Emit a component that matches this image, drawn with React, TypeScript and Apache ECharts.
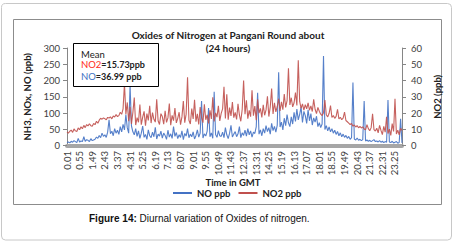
import React, { useEffect, useRef } from "react";
import * as echarts from "echarts";

// NO (ppb), left axis, one reading every 6 minutes starting 0.01
const noValues: number[] = [
  9, 11, 8, 13, 10, 15, 12, 9, 22, 11,
  14, 12, 27, 13, 18, 16, 12, 21, 15, 17,
  19, 26, 22, 31, 24, 38, 28, 33, 25, 41,
  79, 36, 44, 30, 52, 38, 47, 34, 58, 42,
  65, 48, 95, 55, 38, 185, 60, 42, 33, 52,
  28, 45, 22, 38, 60, 25, 34, 19, 48, 30,
  24, 41, 27, 56, 20, 35, 29, 44, 23, 38,
  31, 19, 47, 26, 36, 22, 58, 28, 40, 21,
  33, 25, 45, 18, 37, 29, 52, 24, 35, 27,
  42, 20, 31, 48, 26, 38, 137, 23, 36, 29,
  44, 115, 27, 39, 22, 165, 34, 25, 46, 30,
  28, 41, 24, 55, 33, 21, 38, 62, 26, 35,
  43, 27, 36, 58, 24, 39, 31, 47, 29, 52,
  33, 45, 26, 41, 37, 57, 162, 35, 48, 30,
  52, 38, 61, 43, 55, 35, 68, 46, 59, 41,
  63, 225, 57, 72, 48, 84, 61, 95, 70, 58,
  88, 66, 102, 74, 112, 79, 96, 118, 71, 105,
  92, 68, 110, 76, 98, 63, 85, 72, 90, 58,
  70, 55, 66, 275, 49, 61, 45, 57, 42, 52,
  38, 47, 34, 43, 30, 39, 27, 35, 25, 31,
  22, 28, 19, 24, 194, 20, 17, 23, 16, 19,
  15, 18, 137, 14, 17, 13, 16, 12, 15, 18,
  12, 14, 11, 15, 10, 13, 9, 12, 10, 140,
  11, 9, 13, 8, 10, 12, 7, 9, 82, 8,
];

// NO2 (ppb), right axis
const no2Values: number[] = [
  8.4, 7.6, 8.8, 9.5, 8.1, 10.2, 9.0, 8.6, 10.8, 9.7,
  11.5, 10.3, 12.4, 11.0, 12.9, 12.1, 13.4, 12.2, 11.8, 13.6,
  12.8, 14.9, 13.7, 15.6, 16.8, 16.2, 17.0, 16.5, 15.8, 17.3,
  16.9, 17.6, 16.4, 18.2, 17.5, 19.1, 17.8, 18.4, 20.5, 19.2,
  22.6, 38.0, 19.3, 26.5, 15.0, 23.8, 13.2, 20.4, 29.5, 12.6,
  17.1, 14.3, 25.2, 12.8, 17.5, 21.0, 12.2, 19.7, 15.4, 24.5,
  13.8, 20.3, 16.1, 14.4, 28.5, 15.2, 12.9, 19.6, 17.8, 13.1,
  21.4, 14.2, 17.0, 25.8, 12.5, 18.6, 15.3, 23.1, 13.9, 16.7,
  20.5, 12.8, 17.6, 27.4, 14.0, 19.3, 42.0, 15.5, 13.2, 22.8,
  16.3, 28.2, 14.7, 19.5, 12.9, 23.6, 17.2, 14.1, 25.3, 15.8,
  18.9, 13.6, 21.7, 16.4, 29.6, 14.8, 20.1, 17.5, 24.4, 15.1,
  19.8, 22.5, 36.2, 16.6, 31.5, 15.9, 23.3, 18.2, 26.7, 17.1,
  20.4, 16.0, 25.6, 18.8, 14.9, 22.3, 40.0, 19.2, 27.8, 16.5,
  21.6, 17.7, 34.0, 18.4, 24.2, 15.6, 28.5, 19.9, 22.8, 17.3,
  25.1, 18.6, 21.9, 30.3, 17.8, 23.7, 35.0, 19.4, 26.2, 20.7,
  24.0, 28.8, 21.3, 26.9, 22.1, 31.7, 23.4, 27.6, 47.5, 25.0,
  29.4, 23.8, 26.3, 32.6, 24.7, 52.5, 27.1, 22.9, 25.6, 21.8,
  25.2, 22.6, 26.3, 21.7, 24.4, 20.9, 28.4, 22.3, 19.6, 23.5,
  21.1, 19.3, 18.4, 20.2, 28.0, 18.9, 17.6, 19.8, 24.5, 17.2,
  18.5, 16.7, 17.9, 22.3, 16.3, 17.4, 15.9, 16.8, 20.6, 15.4,
  14.6, 13.8, 12.9, 13.5, 11.9, 12.6, 11.4, 12.2, 10.9, 11.7,
  10.8, 11.5, 10.2, 9.6, 12.8, 10.4, 9.1, 11.0, 19.5, 9.8,
  8.9, 10.6, 7.8, 12.4, 9.3, 6.7, 11.8, 8.2, 17.6, 7.4,
  10.1, 6.2, 13.5, 8.6, 28.8, 7.1, 9.4, 6.5, 10.6, 9.2,
];

// time categories "h.mm" (GMT), one every 6 minutes from 0.01
const startMinute = 1;
const stepMinutes = 6;
const timeLabels: string[] = noValues.map((_, i) => {
  const m = startMinute + i * stepMinutes;
  const h = Math.floor(m / 60);
  const mm = m % 60;
  return `${h}.${mm < 10 ? "0" + mm : mm}`;
});

const seriesNames = ["NO ppb", "NO2 ppb"];
const meanNO2 = "15.73";
const meanNO = "36.99";

const FONT = "Lato, 'Open Sans', sans-serif";

export default function App() {
  const ref = useRef<HTMLDivElement>(null);
  useEffect(() => {
    if (!ref.current) return;
    const chart = echarts.init(ref.current, null, { renderer: "svg" });
    const axisLabelStyle = { fontFamily: FONT, fontSize: 9.5, color: "#404040" };
    chart.setOption({
      animation: false,
      backgroundColor: "#ffffff",
      textStyle: { fontFamily: FONT },
      grid: { left: 67, top: 48, width: 335, height: 97.5 },
      legend: {
        data: seriesNames,
        left: 168,
        top: 183,
        icon: "rect",
        itemWidth: 19,
        itemHeight: 2,
        itemGap: 8,
        textStyle: { fontFamily: FONT, fontSize: 9.5, fontWeight: "bold", color: "#222" },
      },
      xAxis: {
        type: "category",
        data: timeLabels,
        boundaryGap: false,
        offset: 1.5,
        axisLine: { lineStyle: { color: "#a6a6a6", width: 4 } },
        axisTick: { show: false },
        axisLabel: { ...axisLabelStyle, rotate: 90, interval: 8, margin: 4 },
        splitLine: { show: false },
      },
      yAxis: [
        {
          type: "value",
          min: 0,
          max: 300,
          interval: 50,
          position: "left",
          name: "NH3, NOx, NO (ppb)",
          nameLocation: "middle",
          nameGap: 28,
          nameTextStyle: { fontFamily: FONT, fontSize: 9.5, fontWeight: "bold", color: "#222" },
          axisLine: { show: true, lineStyle: { color: "#868686" } },
          axisTick: { show: true, length: 4, lineStyle: { color: "#868686" } },
          axisLabel: { ...axisLabelStyle, margin: 7 },
          splitLine: { show: false },
        },
        {
          type: "value",
          min: 0,
          max: 60,
          interval: 10,
          position: "right",
          name: "NO2 (ppb)",
          nameLocation: "middle",
          nameGap: 25,
          nameTextStyle: { fontFamily: FONT, fontSize: 9.5, fontWeight: "bold", color: "#222" },
          axisLine: { show: true, lineStyle: { color: "#868686" } },
          axisTick: { show: true, length: 4, lineStyle: { color: "#868686" } },
          axisLabel: { ...axisLabelStyle, margin: 9 },
          splitLine: { show: false },
        },
      ],
      series: [
        {
          name: seriesNames[0],
          type: "line",
          yAxisIndex: 0,
          data: noValues,
          showSymbol: false,
          symbol: "none",
          color: "#4472c4",
          lineStyle: { width: 1.1, color: "#4472c4", opacity: 0.9 },
        },
        {
          name: seriesNames[1],
          type: "line",
          yAxisIndex: 1,
          data: no2Values,
          showSymbol: false,
          symbol: "none",
          color: "#c0504d",
          lineStyle: { width: 1.1, color: "#c0504d", opacity: 0.9 },
        },
      ],
      graphic: [
        {
          type: "rect",
          silent: true,
          z: -10,
          shape: { x: 1.5, y: 3.5, width: 450, height: 236.5, r: 4 },
          style: { fill: "none", stroke: "#c8c8c8", lineWidth: 1 },
        },
        {
          type: "rect",
          silent: true,
          z: -10,
          shape: { x: 13.5, y: 19.5, width: 428, height: 185 },
          style: { fill: "none", stroke: "#8c8c8c", lineWidth: 1 },
        },
        {
          type: "text",
          silent: true,
          style: {
            text: "Oxides of Nitrogen at Pangani Round about",
            x: 228,
            y: 35,
            textAlign: "center",
            textVerticalAlign: "middle",
            fontFamily: FONT,
            fontSize: 10,
            fontWeight: "bold",
            fill: "#222",
          },
        },
        {
          type: "text",
          silent: true,
          style: {
            text: "(24 hours)",
            x: 228,
            y: 48,
            textAlign: "center",
            textVerticalAlign: "middle",
            fontFamily: FONT,
            fontSize: 10,
            fontWeight: "bold",
            fill: "#222",
          },
        },
        {
          type: "text",
          silent: true,
          style: {
            text: "Time in GMT",
            x: 233,
            y: 182,
            textAlign: "center",
            textVerticalAlign: "middle",
            fontFamily: FONT,
            fontSize: 9.5,
            fontWeight: "bold",
            fill: "#222",
          },
        },
        {
          type: "rect",
          silent: true,
          z: 100,
          shape: { x: 73.5, y: 43.5, width: 85, height: 43 },
          style: { fill: "#ffffff", stroke: "#000000", lineWidth: 1 },
        },
        {
          type: "text",
          silent: true,
          z: 101,
          style: {
            text: "Mean",
            x: 81,
            y: 54,
            textVerticalAlign: "middle",
            fontFamily: FONT,
            fontSize: 9.5,
            fill: "#222",
          },
        },
        {
          type: "text",
          silent: true,
          z: 101,
          style: {
            text: `{r|NO2}{k|=${meanNO2}ppb}`,
            x: 81,
            y: 64,
            textVerticalAlign: "middle",
            fontFamily: FONT,
            fontSize: 9.5,
            rich: {
              r: { fill: "#ff2a1a", fontFamily: FONT, fontSize: 9.5 },
              k: { fill: "#222", fontFamily: FONT, fontSize: 9, fontWeight: "bold" },
            },
          },
        },
        {
          type: "text",
          silent: true,
          z: 101,
          style: {
            text: `{b|NO}{k|=${meanNO} ppb}`,
            x: 81,
            y: 76,
            textVerticalAlign: "middle",
            fontFamily: FONT,
            fontSize: 9.5,
            rich: {
              b: { fill: "#3d72c4", fontFamily: FONT, fontSize: 9.5 },
              k: { fill: "#222", fontFamily: FONT, fontSize: 9, fontWeight: "bold" },
            },
          },
        },
        {
          type: "text",
          silent: true,
          style: {
            text: "{b|Figure 14:}{n| Diurnal variation of Oxides of nitrogen.}",
            x: 89,
            y: 218,
            textVerticalAlign: "middle",
            rich: {
              b: { fontFamily: "'Liberation Sans', Arial, sans-serif", fontSize: 10, fontWeight: "bold", fill: "#111" },
              n: { fontFamily: "'Liberation Sans', Arial, sans-serif", fontSize: 10, fill: "#111" },
            },
          },
        },
      ],
    });
    return () => chart.dispose();
  }, []);
  return (
    <div
      ref={ref}
      style={{ position: "absolute", left: 0, top: 0, width: 453, height: 245, background: "#fff" }}
    />
  );
}
